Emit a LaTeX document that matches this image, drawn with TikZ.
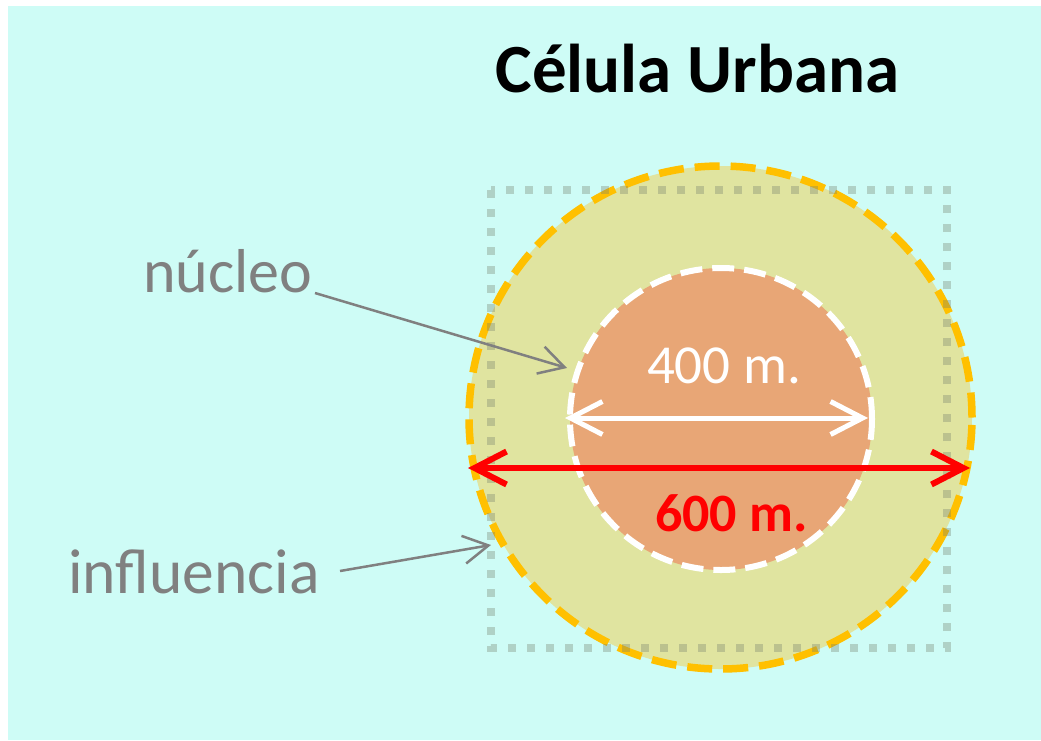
\documentclass[tikz,border=0pt]{standalone}
\usepackage{fontspec}
\setmainfont{Carlito}
\usetikzlibrary{arrows.meta}
\definecolor{bgcyan}{RGB}{206,252,246}
\definecolor{ringfill}{RGB}{224,228,160}
\definecolor{corefill}{RGB}{232,166,118}
\definecolor{ringline}{RGB}{255,192,0}
\definecolor{boxline}{RGB}{120,130,110}
\definecolor{labgray}{RGB}{128,128,128}
\definecolor{redline}{RGB}{255,0,0}
\tikzset{
  lbl/.style={inner sep=0pt, anchor=base west, text=labgray, font=\fontsize{62}{70}\selectfont},
  pointer/.style={draw=labgray, line width=2.5pt, -{Straight Barb[length=25pt,width=28pt]}},
  dimarrow/.style={line width=#1, {Straight Barb[length=32pt,width=33pt]}-{Straight Barb[length=32pt,width=33pt]}},
}
\begin{document}
\begin{tikzpicture}[x=1pt,y=-1pt]
\useasboundingbox (0,0) rectangle (1041,740);
\fill[white] (0,0) rectangle (1041,740);
\fill[bgcyan] (8,6) rectangle (1041,740);
% outer ring (influencia)
\node[circle, minimum size=503pt, inner sep=0pt, fill=ringfill] (ring) at (720.5,417.5) {};
\draw[ringline, line width=7.5pt, dash pattern=on 25pt off 11pt] (720.5,417.5) circle[radius=251.5pt];
% inner core (nucleo)
\node[circle, minimum size=302pt, inner sep=0pt, fill=corefill] (core) at (721,419) {};
\draw[white, line width=6pt, dash pattern=on 22pt off 10pt] (721,419) circle[radius=151pt];
% dotted square
\draw[boxline, opacity=0.35, line width=8pt, dash pattern=on 8pt off 11pt] (491,190) rectangle (947,648);
% title
\node[inner sep=0pt, anchor=base, font=\bfseries\fontsize{69}{80}\selectfont] (title) at (697.5,92) {Célula Urbana};
% labels
\node[lbl] (nuc) at (143,292) {núcleo};
\node[lbl, font=\fontsize{63.5}{70}\selectfont] (inf) at (68,593) {influencia};
% dimension arrows
\coordinate (wl) at (565,418);
\coordinate (wr) at (868,418);
\draw[white, dimarrow=5pt] (wl) -- (wr);
\coordinate (rl) at (468,468);
\coordinate (rr) at (970,468);
\draw[redline, dimarrow=6pt] (rl) -- (rr);
\node[inner sep=0pt, anchor=base, text=white, font=\fontsize{55}{60}\selectfont] (d400) at (724,383) {400 m.};
\node[inner sep=0pt, anchor=base, text=redline, font=\bfseries\fontsize{54}{60}\selectfont] (d600) at (731.5,531) {600 m.};
% pointers
\coordinate (nucS) at (315,293);
\coordinate (nucT) at (567,368);
\draw[pointer] (nucS) -- (nucT);
\coordinate (infS) at (340,571);
\coordinate (infT) at (491,545);
\draw[pointer] (infS) -- (infT);
\end{tikzpicture}
\end{document}
